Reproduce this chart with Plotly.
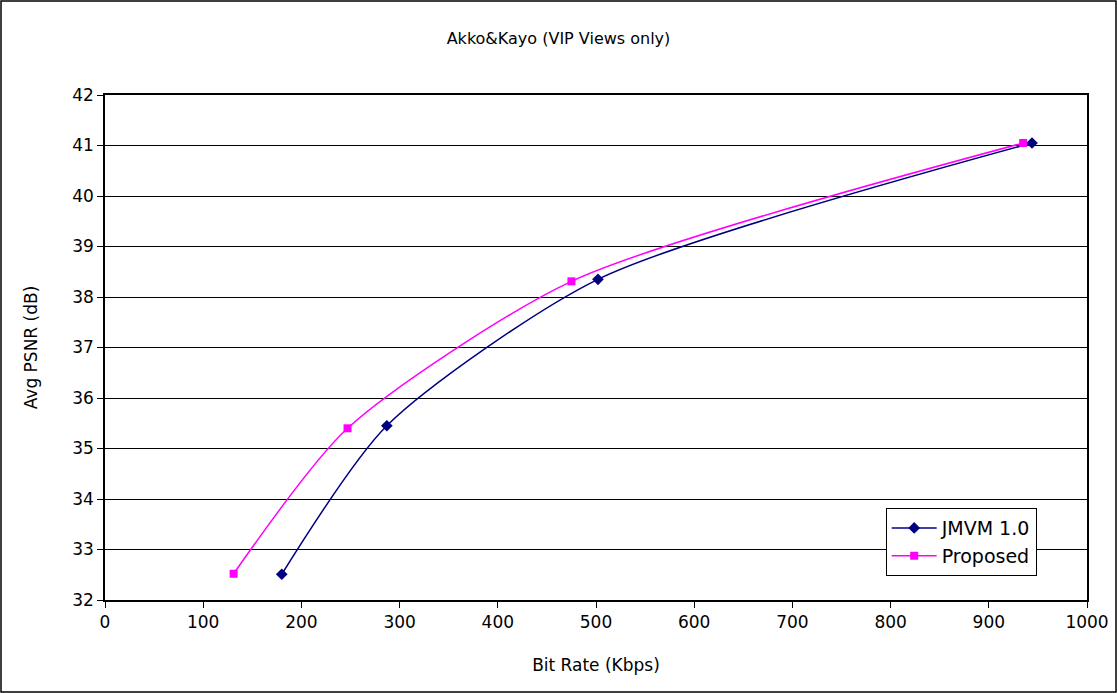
import plotly.graph_objects as go

jmvm_x = [180, 287, 502, 944]
jmvm_y = [32.51, 35.45, 38.35, 41.05]
prop_x = [131, 247, 475, 935]
prop_y = [32.52, 35.40, 38.31, 41.05]

FONT = "DejaVu Sans"

fig = go.Figure()
fig.add_trace(go.Scatter(
    x=jmvm_x, y=jmvm_y, name="JMVM 1.0", mode="lines+markers",
    line=dict(color="#000080", width=1.5, shape="spline", smoothing=0.7),
    marker=dict(symbol="diamond", size=9, color="#000080"),
))
fig.add_trace(go.Scatter(
    x=prop_x, y=prop_y, name="Proposed", mode="lines+markers",
    line=dict(color="#FF00FF", width=1.5, shape="spline", smoothing=0.7),
    marker=dict(symbol="square", size=8, color="#FF00FF"),
))

fig.update_layout(
    width=1117, height=693,
    margin=dict(l=105, r=30, t=95, b=93, autoexpand=False),
    paper_bgcolor="white", plot_bgcolor="white",
    font=dict(family=FONT, size=17, color="black"),
    title=dict(text="Akko&Kayo (VIP Views only)", x=0.5, xanchor="center",
               y=1 - 38 / 693, yanchor="middle", font=dict(size=16, family=FONT)),
    showlegend=True,
    legend=dict(x=0.795, y=0.182, xanchor="left", yanchor="top",
                bordercolor="black", borderwidth=1, bgcolor="white",
                font=dict(size=19, family=FONT), tracegroupgap=0,
                itemwidth=45),
    shapes=[dict(type="rect", xref="paper", yref="paper", x0=-104/982, x1=1+29/982,
                 y0=-92/505, y1=1+94/505, line=dict(color="black", width=1.5),
                 fillcolor="rgba(0,0,0,0)", layer="below")],
)
fig.update_xaxes(
    range=[0, 1000], dtick=100, tick0=0, showgrid=False, zeroline=False,
    showline=True, linecolor="black", linewidth=1.5, mirror=True,
    ticks="outside", ticklen=6, tickcolor="black", automargin=False,
    title=dict(text="Bit Rate (Kbps)", standoff=28, font=dict(size=17)),
    tickfont=dict(size=17),
)
fig.update_yaxes(
    range=[32, 42], dtick=1, tick0=32, showgrid=True, gridcolor="black", gridwidth=1,
    zeroline=False, showline=True, linecolor="black", linewidth=1.5, mirror=True,
    ticks="outside", ticklen=6, tickcolor="black", automargin=False,
    title=dict(text="Avg PSNR (dB)", standoff=30, font=dict(size=17)),
    tickfont=dict(size=17),
)

fig.write_html("out.html", config={"displayModeBar": False},
               post_script="document.body.style.margin='0';document.body.style.padding='0';")
